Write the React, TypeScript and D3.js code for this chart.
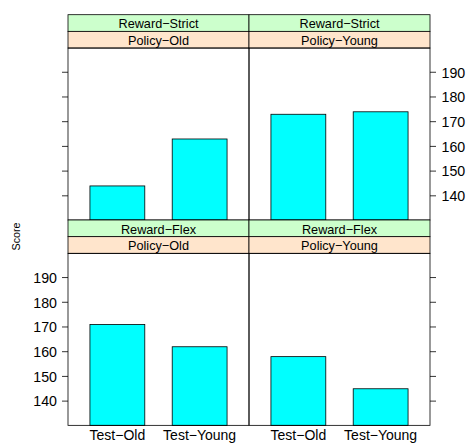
import React from "react";
import * as d3 from "d3";

const categories = ["Test−Old", "Test−Young"];
const rewardLevels = ["Reward−Strict", "Reward−Flex"];
const policyLevels = ["Policy−Old", "Policy−Young"];
const strictOld = [144, 163];
const strictYoung = [173, 174];
const flexOld = [171, 162];
const flexYoung = [158, 145];
const yTicks = [140, 150, 160, 170, 180, 190];
const yLabel = "Score";

const W = 468, H = 443;
const panelX = [68, 249];
const panelW = 181;
const rowTop = [14.7, 220];
const stripH = 16.67;
const panelH = 172;
const FONT = "Liberation Sans, Arial, Helvetica, sans-serif";

export default function App() {
  const panels = [
    { row: 0, col: 0, values: strictOld },
    { row: 0, col: 1, values: strictYoung },
    { row: 1, col: 0, values: flexOld },
    { row: 1, col: 1, values: flexYoung },
  ];
  const x = d3.scaleLinear().domain([0.4, 2.6]).range([0, panelW]);
  const y = d3.scaleLinear().domain([130.2, 199.8]).range([panelH, 0]);
  const barW = x(2 / 3) - x(0);

  return (
    <svg width={W} height={H} style={{ position: "absolute", left: 0, top: 0 }} fontFamily={FONT}>
      <rect width={W} height={H} fill="#fff" />
      {panels.map((p) => {
        const px = panelX[p.col];
        const top = rowTop[p.row];
        const py = top + 2 * stripH;
        return (
          <g key={`${p.row}-${p.col}`}>
            <rect x={px} y={top} width={panelW} height={stripH} fill="#CCFFCC" stroke="#000" strokeWidth={0.8} />
            <text x={px + panelW / 2} y={top + stripH / 2 + 5.2} textAnchor="middle" fontSize={12.7} fill="#000">
              {rewardLevels[p.row]}
            </text>
            <rect x={px} y={top + stripH} width={panelW} height={stripH} fill="#FFE5CC" stroke="#000" strokeWidth={0.8} />
            <text x={px + panelW / 2} y={top + stripH * 1.5 + 4.8} textAnchor="middle" fontSize={12.7} fill="#000">
              {policyLevels[p.col]}
            </text>
            <g transform={`translate(${px},${py})`}>
              {p.values.map((v, i) => (
                <rect
                  key={i}
                  x={x(i + 1) - barW / 2}
                  y={y(v)}
                  width={barW}
                  height={panelH - y(v)}
                  fill="#00FFFF"
                  stroke="#000"
                  strokeWidth={0.8}
                />
              ))}
              <rect x={0} y={0} width={panelW} height={panelH} fill="none" stroke="#000" strokeWidth={0.8} />
            </g>
          </g>
        );
      })}
      {[0, 1].map((row) => {
        const py = rowTop[row] + 2 * stripH;
        const labelsLeft = row === 1;
        return (
          <g key={row} transform={`translate(0,${py})`}>
            {yTicks.map((t) => (
              <g key={t}>
                <line x1={panelX[0] - 6} x2={panelX[0]} y1={y(t)} y2={y(t)} stroke="#000" strokeWidth={0.8} />
                <line x1={panelX[1] + panelW} x2={panelX[1] + panelW + 6} y1={y(t)} y2={y(t)} stroke="#000" strokeWidth={0.8} />
                {labelsLeft ? (
                  <text x={panelX[0] - 11} y={y(t) + 5.3} textAnchor="end" fontSize={14.2} fill="#000">{t}</text>
                ) : (
                  <text x={panelX[1] + panelW + 11.5} y={y(t) + 5.3} textAnchor="start" fontSize={14.2} fill="#000">{t}</text>
                )}
              </g>
            ))}
          </g>
        );
      })}
      {[0, 1].map((col) =>
        categories.map((c, i) => (
          <text key={`${col}-${i}`} x={panelX[col] + x(i + 1)} y={rowTop[1] + 2 * stripH + panelH + 14.3} textAnchor="middle" fontSize={14} fill="#000">
            {c}
          </text>
        ))
      )}
      <text transform={`translate(19.5,236.5) rotate(-90)`} textAnchor="middle" fontSize={10.7} fill="#000">
        {yLabel}
      </text>
    </svg>
  );
}
